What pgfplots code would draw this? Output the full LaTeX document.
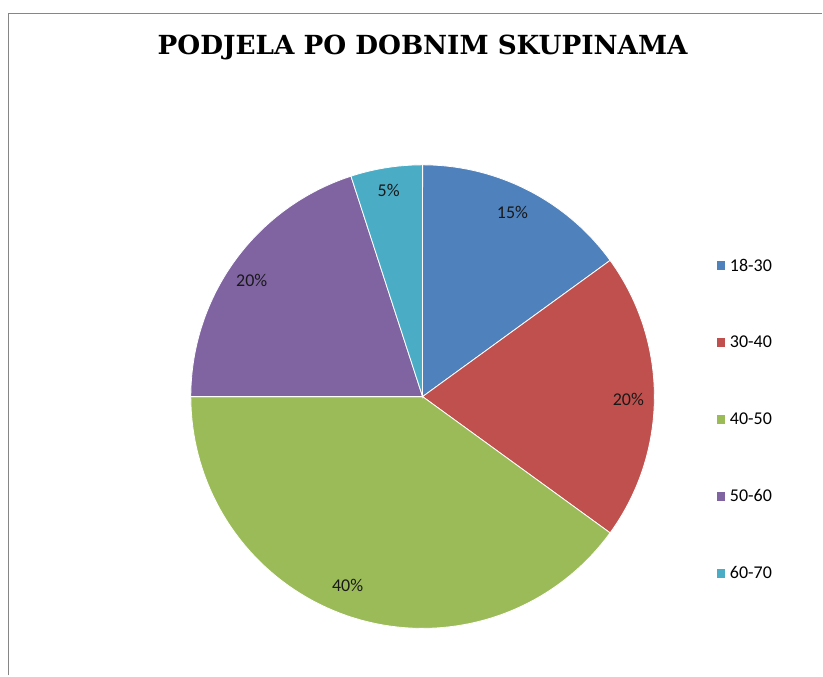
\documentclass[border=0pt]{standalone}
\usepackage{fontspec}
\setmainfont{Carlito}
\newfontfamily\titlefont{DejaVu Serif}
\usepackage{pgfplots}
\pgfplotsset{compat=1.18}

\definecolor{c1}{HTML}{4F81BD}
\definecolor{c2}{HTML}{C0504D}
\definecolor{c3}{HTML}{9BBB59}
\definecolor{c4}{HTML}{8064A2}
\definecolor{c5}{HTML}{4BACC6}
\definecolor{framegray}{HTML}{868686}

% pie centre (423,279), radius 232, start at top, clockwise
% #1 = cumulative percent before slice, #2 = percent, #3 = colour
\newcommand{\slice}[3]{%
  \addplot[fill=#3, draw=white, line width=0.8bp, samples=80,
    domain={90-3.6*(#1+#2)}:{90-3.6*#1}]
    ({423+232*cos(x)}, {279+232*sin(x)}) -- (axis cs:423,279) -- cycle;
}

\begin{document}
\begin{tikzpicture}
\begin{axis}[
  scale only axis,
  width=823bp, height=676bp,
  xmin=0, xmax=823, ymin=0, ymax=676,
  hide axis, clip=false,
  legend image code/.code={\fill[#1, draw=none] (0bp,-4.5bp) rectangle (9bp,4.5bp);},
  legend style={draw=none, fill=none, at={(axis cs:714,421)}, anchor=north west,
    row sep=59.6bp, font=\fontsize{18bp}{21bp}\selectfont,
    nodes={inner sep=2bp}},
  legend cell align=left,
]
\slice{0}{15}{c1}
\addlegendentry{\hspace{2.5bp}18-30}
\slice{15}{20}{c2}
\addlegendentry{\hspace{2.5bp}30-40}
\slice{35}{40}{c3}
\addlegendentry{\hspace{2.5bp}40-50}
\slice{75}{20}{c4}
\addlegendentry{\hspace{2.5bp}50-60}
\slice{95}{5}{c5}
\addlegendentry{\hspace{2.5bp}60-70}

\begin{scope}[font=\fontsize{18bp}{21bp}\selectfont, text=black!90]
\node at (axis cs:513,463) {15\%};
\node at (axis cs:629,276) {20\%};
\node at (axis cs:348,90) {40\%};
\node at (axis cs:252,395) {20\%};
\node at (axis cs:389,485) {5\%};
\end{scope}

\node[font=\titlefont\bfseries\fontsize{26.3bp}{30bp}\selectfont] at (axis cs:423,628) {PODJELA PO DOBNIM SKUPINAMA};

\draw[framegray, line width=1.6bp] (axis cs:8.5,0) -- (axis cs:8.5,662.5) -- (axis cs:823,662.5);
\path (axis cs:0,0) rectangle (axis cs:823,676);
\end{axis}
\end{tikzpicture}
\end{document}
